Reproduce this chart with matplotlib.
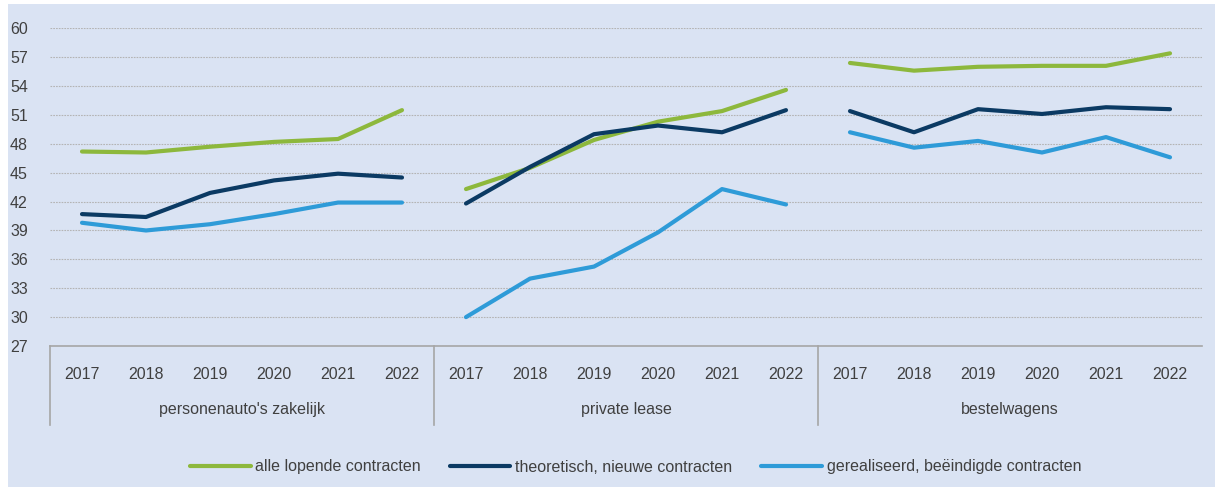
import matplotlib.pyplot as plt
from matplotlib.patches import Rectangle
import matplotlib.transforms as mtransforms

plt.rcParams['font.family'] = ['Liberation Sans Narrow', 'Liberation Sans', 'DejaVu Sans']

years = ['2017', '2018', '2019', '2020', '2021', '2022']
groups = ["personenauto's zakelijk", 'private lease', 'bestelwagens']
series_names = ['alle lopende contracten', 'theoretisch, nieuwe contracten',
                'gerealiseerd, beëindigde contracten']

# values per group, per series
alle_lopende = [
    [47.2, 47.1, 47.7, 48.2, 48.5, 51.5],
    [43.3, 45.5, 48.4, 50.3, 51.4, 53.6],
    [56.4, 55.6, 56.0, 56.1, 56.1, 57.4],
]
theoretisch = [
    [40.7, 40.4, 42.9, 44.2, 44.9, 44.5],
    [41.8, 45.6, 49.0, 49.9, 49.2, 51.5],
    [51.4, 49.2, 51.6, 51.1, 51.8, 51.6],
]
gerealiseerd = [
    [39.8, 39.0, 39.65, 40.7, 41.9, 41.9],
    [30.0, 34.0, 35.25, 38.8, 43.3, 41.7],
    [49.2, 47.6, 48.3, 47.1, 48.7, 46.6],
]

colors = ['#8DB83C', '#0B3A63', '#2E9BD8']
bg = '#DAE3F3'
txt = '#404040'

fig = plt.figure(figsize=(12.15, 4.87), dpi=100)
fig.patch.set_facecolor('white')
fig.patches.append(Rectangle((8 / 1215, 0), 1 - 8 / 1215, 1 - 4 / 487,
                             transform=fig.transFigure, facecolor=bg,
                             edgecolor='none', zorder=-10))

ax = fig.add_axes([50 / 1215, 1 - 346 / 487, 1152 / 1215, (346 - 28.3) / 487])
ax.set_facecolor('none')

n = len(years)
handles = []
for si, data in enumerate([alle_lopende, theoretisch, gerealiseerd]):
    for gi in range(len(groups)):
        xs = [gi * n + i for i in range(n)]
        h, = ax.plot(xs, data[gi], color=colors[si], linewidth=3,
                     solid_capstyle='round', solid_joinstyle='round')
    handles.append(h)

ax.set_xlim(-0.5, len(groups) * n - 0.5)
ax.set_ylim(27, 60)
ax.set_yticks(range(27, 61, 3))
ax.yaxis.grid(True, color='#B4B4B4', linestyle=(0, (1.5, 1)), linewidth=0.8)
ax.set_axisbelow(True)
for s in ['top', 'right', 'left']:
    ax.spines[s].set_visible(False)
ax.spines['bottom'].set_color('#A6A6A6')
ax.spines['bottom'].set_linewidth(1.2)
ax.tick_params(axis='y', length=0, pad=16, labelsize=11.5, labelcolor=txt)
ax.tick_params(axis='x', length=0, pad=15, labelsize=11.5, labelcolor=txt)
ax.set_xticks(range(len(groups) * n))
ax.set_xticklabels(years * len(groups))

trans = mtransforms.blended_transform_factory(ax.transData, ax.transAxes)
for gi, g in enumerate(groups):
    ax.text(gi * n + (n - 1) / 2, -0.2, g, transform=trans, ha='center',
            va='center', fontsize=11.5, color=txt)
for gi in range(len(groups)):
    ax.plot([gi * n - 0.5, gi * n - 0.5], [0, -0.249], transform=trans,
            color='#A6A6A6', linewidth=1.2, clip_on=False)

fig.legend(handles, series_names, loc='center', bbox_to_anchor=(0.523, 1 - 467 / 487),
           ncol=3, frameon=False, fontsize=11.5, handlelength=3.8,
           handletextpad=0.3, columnspacing=1.8, labelcolor=txt)

fig.savefig('out.png', dpi=100)
